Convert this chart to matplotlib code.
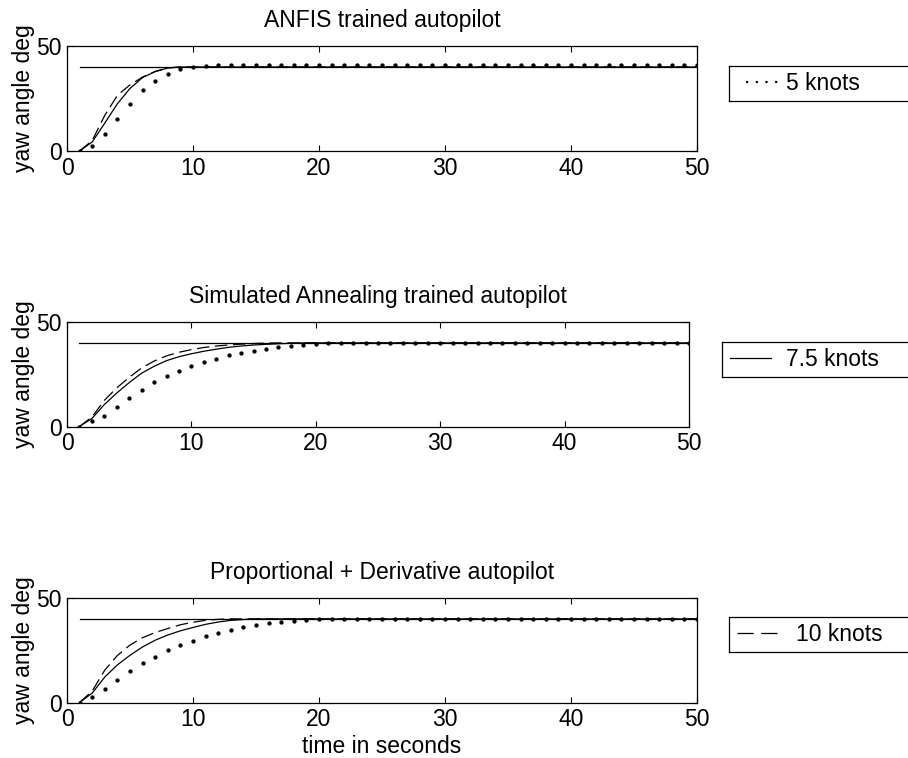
import matplotlib
matplotlib.use("Agg")
import matplotlib.pyplot as plt
from matplotlib.lines import Line2D

plt.rcParams['font.family'] = ['Liberation Sans', 'DejaVu Sans']

# ---------------- data ----------------
titles = ["ANFIS trained autopilot",
          "Simulated Annealing trained autopilot",
          "Proportional + Derivative autopilot"]
legend_labels = ["5 knots", "7.5 knots", "10 knots"]
x_ticks = [0, 10, 20, 30, 40, 50]
y_ticks = [0, 50]

ref_time = [1, 50]
ref_value = [40, 40]

# dotted series (5 knots) sampled every second, t = 1..50
dot_time = list(range(1, 51))
anfis_dot = [0, 2.5, 8.1, 15.2, 22.4, 28.9, 33.5, 36.7, 38.9, 40.2,
             40.7, 40.8, 40.8, 40.8, 40.8, 40.8, 40.8, 40.8, 40.8, 40.8,
             40.8, 40.8, 40.8, 40.8, 40.8, 40.8, 40.8, 40.8, 40.8, 40.8,
             40.8, 40.8, 40.8, 40.8, 40.8, 40.8, 40.8, 40.8, 40.8, 40.8,
             40.8, 40.8, 40.8, 40.8, 40.8, 40.8, 40.8, 40.8, 40.8, 40.8]
sa_dot = [0, 2.5, 5.2, 9.3, 13.6, 17.5, 21.2, 24.0, 26.5, 28.8,
          30.8, 32.4, 34.0, 35.3, 36.3, 37.2, 38.0, 38.7, 39.2, 39.6,
          39.8, 40, 40, 40, 40, 40, 40, 40, 40, 40,
          40, 40, 40, 40, 40, 40, 40, 40, 40, 40,
          40, 40, 40, 40, 40, 40, 40, 40, 40, 40]
pd_dot = [0, 2.4, 6.4, 10.9, 14.9, 18.8, 22.0, 25.0, 27.4, 29.6,
          31.6, 33.3, 34.8, 36.1, 37.1, 38.0, 38.7, 39.2, 39.6, 39.8,
          39.9, 40, 40, 40, 40, 40, 40, 40, 40, 40,
          40, 40, 40, 40, 40, 40, 40, 40, 40, 40,
          40, 40, 40, 40, 40, 40, 40, 40, 40, 40]

# solid (7.5 knots) and dashed (10 knots) series
line_time = [1, 2, 3, 4, 5, 6, 7, 8, 9, 10, 11, 12, 13, 14, 15, 16, 17, 18, 19, 20, 50]
anfis_solid = [0, 4.3, 13.3, 22.5, 29.8, 35.0, 37.8, 39.5, 40, 40, 40, 40, 40, 40, 40, 40, 40, 40, 40, 40, 40]
anfis_dash = [0, 5.0, 17.0, 26.5, 31.5, 35.2, 37.9, 39.6, 40, 40, 40, 40, 40, 40, 40, 40, 40, 40, 40, 40, 40]
sa_solid = [0, 3.8, 10.5, 16.0, 21.0, 25.5, 28.8, 31.5, 33.4, 34.8, 36.0, 37.0, 37.9, 38.5, 39.0, 39.3, 39.6, 39.8, 40, 40, 40]
sa_dash = [0, 4.5, 12.5, 18.5, 23.5, 28.0, 31.3, 33.8, 35.5, 36.8, 37.8, 38.5, 39.0, 39.4, 39.7, 39.9, 40, 40, 40, 40, 40]
pd_solid = [0, 4.5, 12.2, 18.0, 22.6, 26.6, 29.8, 32.3, 34.3, 35.9, 37.4, 38.5, 39.3, 39.7, 40, 40, 40, 40, 40, 40, 40]
pd_dash = [0, 5.5, 15.5, 22.5, 27.5, 31.0, 33.5, 35.4, 37.2, 38.4, 39.3, 39.8, 40, 40, 40, 40, 40, 40, 40, 40, 40]

dots = [anfis_dot, sa_dot, pd_dot]
solids = [anfis_solid, sa_solid, pd_solid]
dashes = [anfis_dash, sa_dash, pd_dash]

# ---------------- layout ----------------
W, H = 908, 758
fig = plt.figure(figsize=(W / 100, H / 100), dpi=100)

def fr(left, top, right, bottom):
    return [left / W, 1 - bottom / H, (right - left) / W, (bottom - top) / H]

axes_px = [(67, 46, 697, 151), (67, 322, 689, 426.5), (67, 598, 697, 702.5)]
legend_px = [(729, 66, 930, 101), (722, 342, 930, 377), (729, 617, 930, 652)]

FS = 16.5
legend_handles = [
    Line2D([], [], color='k', lw=1.7, linestyle=(0, (0.1, 4.0)), dash_capstyle='round'),
    Line2D([], [], color='k', lw=0.9, linestyle='-'),
    Line2D([], [], color='k', lw=0.9, linestyle=(0, (13, 6))),
]
handle_lengths = [1.35, 1.8, 1.95]
text_pads = [0.35, 0.65, 0.65]
border_pads = [0.8, 0.33, 0.33]

for i in range(3):
    ax = fig.add_axes(fr(*axes_px[i]))
    ax.plot(ref_time, ref_value, color='k', lw=0.9)
    ax.plot(line_time, solids[i], color='k', lw=0.9)
    ax.plot(line_time, dashes[i], color='k', lw=0.9, linestyle=(0, (10, 4.5)))
    ax.plot(dot_time, dots[i], linestyle='none', marker='o', markersize=2.1,
            color='k')
    ax.set_xlim(0, 50)
    ax.set_ylim(0, 50)
    ax.set_xticks(x_ticks)
    ax.set_yticks(y_ticks)
    ax.tick_params(direction='in', top=True, right=True, length=4,
                   width=0.8, labelsize=FS, pad=4)
    for s in ax.spines.values():
        s.set_linewidth(0.9)
    ax.set_title(titles[i], fontsize=FS, pad=13.5)
    ax.set_ylabel("yaw angle deg", fontsize=FS, labelpad=1)
    if i == 2:
        ax.set_xlabel("time in seconds", fontsize=FS, labelpad=3)

    lax = fig.add_axes(fr(*legend_px[i]))
    lax.set_xticks([])
    lax.set_yticks([])
    for s in lax.spines.values():
        s.set_linewidth(0.9)
    lax.legend([legend_handles[i]], [legend_labels[i]], loc='center left',
               frameon=False, fontsize=FS, handlelength=handle_lengths[i],
               handletextpad=text_pads[i], borderpad=0,
               borderaxespad=border_pads[i])

fig.savefig("out.png", dpi=100)
